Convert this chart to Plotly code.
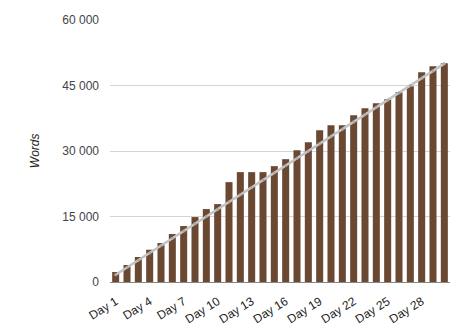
import plotly.graph_objects as go

days = [f"Day {i}" for i in range(1, 31)]
words = [2290, 3890, 5720, 7390, 8920, 10980, 12810, 14870, 16700, 17840,
         22870, 25160, 25160, 25160, 26530, 28130, 30190, 32020, 34770, 35910,
         35910, 38200, 39800, 40940, 41860, 43460, 44830, 48030, 49410, 50090]
target = [1667, 3333, 5000, 6667, 8333, 10000, 11667, 13333, 15000, 16667,
          18333, 20000, 21667, 23333, 25000, 26667, 28333, 30000, 31667, 33333,
          35000, 36667, 38333, 40000, 41667, 43333, 45000, 46667, 48333, 50000]
y_ticks = [0, 15000, 30000, 45000, 60000]
x_ticks = ["Day 1", "Day 4", "Day 7", "Day 10", "Day 13", "Day 16", "Day 19",
           "Day 22", "Day 25", "Day 28"]

fig = go.Figure()
fig.add_trace(go.Bar(x=days, y=words, marker_color="#6b4832", marker_line_width=0))
fig.add_trace(go.Scatter(x=days, y=target, mode="lines+markers",
                         line=dict(color="#c4c4c4", width=2.5),
                         marker=dict(size=3, color="#a8a8a8")))

fig.update_layout(
    width=468, height=335,
    margin=dict(l=110, r=18, t=20, b=53),
    paper_bgcolor="white", plot_bgcolor="white",
    showlegend=False, bargap=0.38,
    separators=". ",
    font=dict(family="Liberation Sans, Arial, sans-serif", size=12, color="#444"),
)
fig.update_xaxes(tickmode="array", tickvals=x_ticks, ticktext=x_ticks,
                 range=[-0.5, 29.5], autorange=False, automargin=False,
                 tickangle=-32, showgrid=False, showline=True,
                 linecolor="#888", linewidth=1, ticks="",
                 ticklabelstandoff=7,
                 tickfont=dict(size=12, color="#222"))
fig.update_yaxes(range=[0, 60000], tickvals=y_ticks, tickformat=",d",
                 showgrid=True, gridcolor="#d4d4d4", gridwidth=1,
                 zeroline=False, ticks="", ticklabelstandoff=10,
                 automargin=False,
                 tickfont=dict(size=12, color="#444"))
fig.add_annotation(text="<i>Words</i>", xref="paper", yref="paper",
                   x=-0.22, y=0.5, textangle=-90, showarrow=False,
                   xanchor="center", yanchor="middle",
                   font=dict(size=12, color="#222"))
fig.write_html("out.html")
